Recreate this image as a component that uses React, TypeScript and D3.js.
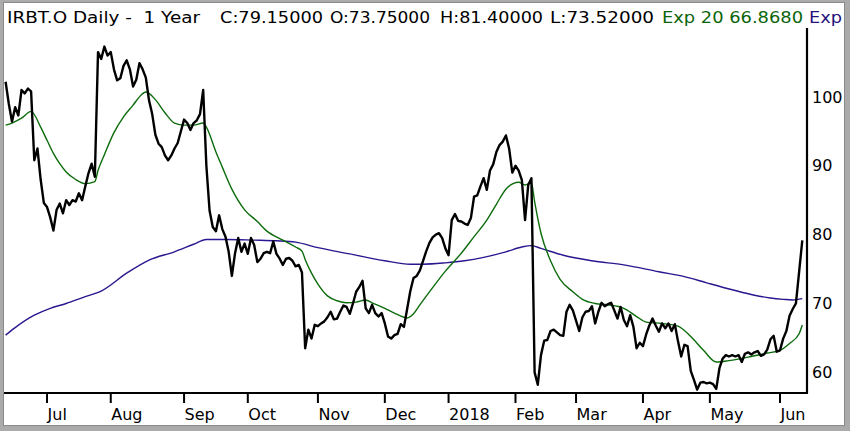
import * as d3 from "d3";
import React, { useRef, useEffect } from "react";

// trading calendar of the chart (one year of daily bars)
const firstDay = "2017-06-14";
const lastDay = "2018-06-12";
const holidays = [
  "2017-07-04", "2017-09-04", "2017-11-23", "2017-12-25", "2018-01-01",
  "2018-01-15", "2018-02-19", "2018-03-30", "2018-05-28",
];

// daily closes
const closes = [
  102.2, 99.0, 96.4, 98.5, 97.3, 101.0, 100.5, 101.2, 100.8, 90.8,
  92.5, 88.0, 84.6, 84.0, 82.5, 80.6, 83.6, 84.5, 83.1, 85.0,
  84.3, 85.0, 84.8, 86.0, 85.0, 87.0, 88.9, 90.3, 88.4, 106.5,
  105.5, 107.3, 106.0, 106.5, 104.0, 102.4, 102.7, 104.5, 105.3, 104.0,
  101.5, 102.5, 104.9, 104.0, 102.8, 99.5, 97.5, 94.5, 93.2, 92.7,
  91.5, 90.8, 91.5, 92.5, 93.3, 95.0, 96.7, 96.2, 95.2, 96.2,
  96.6, 97.5, 101.0, 90.0, 83.5, 81.1, 80.5, 82.8, 80.8, 79.7,
  77.5, 74.0, 77.3, 79.5, 77.5, 78.7, 77.2, 79.5, 78.5, 76.0,
  76.5, 77.3, 77.5, 77.3, 79.0, 77.2, 76.5, 75.6, 76.5, 76.6,
  76.2, 75.4, 75.6, 74.5, 63.5, 66.2, 64.9, 66.9, 66.7, 67.1,
  67.4, 68.0, 68.8, 67.7, 67.8, 68.8, 69.7, 69.5, 68.5, 70.0,
  71.7, 72.4, 73.3, 69.3, 68.6, 69.8, 68.6, 68.1, 68.6, 67.1,
  65.2, 64.9, 65.4, 65.6, 67.0, 66.6, 69.2, 71.8, 73.7, 74.0,
  74.8, 76.2, 77.6, 78.8, 79.6, 80.0, 80.2, 79.5, 78.0, 77.0,
  82.1, 83.0, 82.0, 81.9, 81.6, 81.4, 82.4, 85.5, 85.7, 87.0,
  88.2, 86.5, 89.3, 90.2, 92.0, 93.0, 93.5, 94.4, 92.5, 89.0,
  90.0, 89.3, 87.9, 82.1, 87.2, 88.2, 60.0, 58.2, 62.5, 64.6,
  64.7, 66.0, 66.2, 65.8, 65.4, 65.3, 68.8, 69.8, 69.0, 67.5,
  66.0, 68.0, 68.8, 68.9, 69.6, 67.1, 68.8, 70.1, 69.6, 69.9,
  70.1, 69.0, 67.8, 69.5, 67.6, 66.7, 68.3, 66.6, 63.5, 64.3,
  63.8, 65.5, 66.8, 67.8, 66.8, 65.9, 67.1, 66.4, 67.1, 66.0,
  67.0, 64.5, 62.3, 64.0, 63.8, 60.2, 58.9, 57.5, 58.5, 58.6,
  58.4, 58.5, 58.3, 57.6, 60.6, 62.0, 62.5, 62.3, 62.5, 62.3,
  62.5, 61.5, 62.7, 62.9, 62.6, 62.9, 63.1, 62.4, 62.6, 63.3,
  64.8, 65.3, 63.0, 63.2, 64.9, 66.0, 68.2, 69.2, 70.0, 74.6,
  79.15,
];

// Exp 20 (green), read at these bar numbers
const fastDays = [
  0, 2, 5, 8, 11, 13, 15, 17, 19, 22, 25, 28, 29, 31, 34, 37, 40, 42, 44, 47,
  50, 53, 56, 59, 62, 63, 66, 68, 71, 75, 79, 82, 87, 91, 93, 94, 96, 98, 101, 104,
  107, 110, 113, 115, 119, 122, 125, 126, 128, 130, 134, 138, 143, 147, 151, 154, 157, 161, 163, 165,
  166, 168, 171, 174, 178, 181, 185, 189, 194, 198, 201, 206, 211, 215, 219, 223, 227, 234, 239, 243,
  246, 249, 250,
];
const fastValues = [
  95.9, 96.2, 96.9, 97.9, 95.6, 93.7, 91.8, 90.3, 89.1, 88.0, 87.4, 87.7, 89.3, 91.6, 94.8, 97.1, 98.8, 100.0, 100.7, 99.6,
  97.7, 96.2, 95.9, 95.9, 96.2, 95.6, 92.0, 89.8, 86.6, 83.6, 81.9, 80.5, 79.2, 78.2, 77.6, 76.4, 74.4, 72.8, 71.1, 70.4,
  70.1, 70.2, 70.5, 70.1, 69.3, 68.6, 68.0, 67.9, 68.5, 69.8, 72.3, 74.7, 77.3, 79.7, 82.1, 84.4, 86.6, 87.6, 87.2, 87.5,
  84.8, 80.2, 76.2, 73.5, 71.7, 70.6, 70.0, 69.8, 69.3, 68.1, 67.3, 67.1, 66.7, 65.2, 63.2, 61.5, 61.7, 62.3, 62.8, 63.2,
  64.2, 65.6, 66.87,
];

// long Exp (blue), read at these bar numbers
const slowDays = [
  0, 3, 9, 14, 19, 25, 30, 38, 45, 53, 59, 63, 69, 78, 85, 91, 98, 108, 119, 127,
  131, 138, 144, 150, 157, 162, 165, 168, 175, 184, 194, 205, 213, 220, 228, 235, 240, 244, 247, 250,
];
const slowValues = [
  65.4, 66.5, 68.3, 69.3, 70.0, 71.0, 71.8, 74.4, 76.3, 77.5, 78.6, 79.3, 79.3, 79.2, 79.1, 78.9, 78.1, 77.2, 76.2, 75.7,
  75.7, 75.9, 76.2, 76.7, 77.5, 78.2, 78.4, 78.0, 77.0, 76.2, 75.6, 74.6, 73.9, 73.0, 72.0, 71.2, 70.8, 70.6, 70.5, 70.7,
];

const priceTicks = [60, 70, 80, 90, 100];

const headerTexts = [
  "IRBT.O Daily -  1 Year",
  "C:79.15000",
  "O:73.75000",
  "H:81.40000",
  "L:73.52000",
  "Exp 20 66.8680",
  "Exp",
];

const W = 850;
const H = 431;
const FONT = "'DejaVu Sans', Verdana, sans-serif";
const GREEN = "#0c6c0c";
const BLUE = "#2a168e";

const Chart = () => {
  const svgRef = useRef(null);

  useEffect(() => {
    const svg = d3.select(svgRef.current);
    svg.selectAll("*").remove();

    const parse = d3.utcParse("%Y-%m-%d");
    const fmt = d3.utcFormat("%Y-%m-%d");
    const off = new Set(holidays);
    const days = d3
      .utcDay.range(parse(firstDay) as Date, d3.utcDay.offset(parse(lastDay) as Date, 1))
      .filter((d) => d.getUTCDay() !== 0 && d.getUTCDay() !== 6 && !off.has(fmt(d)));

    const x = d3.scaleLinear().domain([0, closes.length - 1]).range([5.6, 802.3]);
    const y = d3.scaleLinear().domain([57, 110]).range([393, 28]);

    const axisX = 807;
    const axisY = 393;

    svg.append("rect").attr("width", W).attr("height", H).attr("fill", "#fff");

    svg
      .append("defs")
      .append("clipPath")
      .attr("id", "plotclip")
      .append("rect")
      .attr("x", 4)
      .attr("y", 26)
      .attr("width", axisX - 4)
      .attr("height", axisY - 26);

    const plot = svg.append("g").attr("clip-path", "url(#plotclip)");

    const slowLine = d3
      .line<number>()
      .x((d, i) => x(slowDays[i]))
      .y((d) => y(d))
      .curve(d3.curveMonotoneX);
    plot
      .append("path")
      .attr("d", slowLine(slowValues))
      .attr("fill", "none")
      .attr("stroke", BLUE)
      .attr("stroke-width", 1.4);

    const fastLine = d3
      .line<number>()
      .x((d, i) => x(fastDays[i]))
      .y((d) => y(d))
      .curve(d3.curveMonotoneX);
    plot
      .append("path")
      .attr("d", fastLine(fastValues))
      .attr("fill", "none")
      .attr("stroke", GREEN)
      .attr("stroke-width", 1.4);

    const priceLine = d3
      .line<number>()
      .x((d, i) => x(i))
      .y((d) => y(d));
    plot
      .append("path")
      .attr("d", priceLine(closes))
      .attr("fill", "none")
      .attr("stroke", "#000")
      .attr("stroke-width", 2.4)
      .attr("stroke-linejoin", "round");

    // axes
    svg
      .append("line")
      .attr("x1", 4)
      .attr("x2", axisX + 1)
      .attr("y1", axisY)
      .attr("y2", axisY)
      .attr("stroke", "#000")
      .attr("stroke-width", 2.2);
    svg
      .append("line")
      .attr("x1", axisX)
      .attr("x2", axisX)
      .attr("y1", 28)
      .attr("y2", axisY)
      .attr("stroke", "#000")
      .attr("stroke-width", 2.2);

    svg
      .append("g")
      .selectAll("text")
      .data(priceTicks)
      .join("text")
      .attr("x", axisX + 5)
      .attr("y", (d) => y(d))
      .attr("dy", "0.36em")
      .attr("font-family", FONT)
      .attr("font-size", 16)
      .attr("fill", "#000")
      .text((d) => d);

    const monthStarts = d3
      .range(1, Math.min(days.length, closes.length))
      .filter((i) => days[i].getUTCMonth() !== days[i - 1].getUTCMonth());

    const ticks = svg.append("g").selectAll("g").data(monthStarts).join("g");
    ticks
      .append("line")
      .attr("x1", (i) => x(i))
      .attr("x2", (i) => x(i))
      .attr("y1", axisY)
      .attr("y2", axisY + 10)
      .attr("stroke", "#000")
      .attr("stroke-width", 2);
    ticks
      .append("text")
      .attr("x", (i) => x(i) + 0.5)
      .attr("y", 420)
      .attr("font-family", FONT)
      .attr("font-size", 16)
      .attr("fill", "#000")
      .text((i) =>
        days[i].getUTCMonth() === 0
          ? d3.utcFormat("%Y")(days[i])
          : d3.utcFormat("%b")(days[i])
      );

    // header line
    const headerX = [7, 220, 330, 440, 550, 662, 809];
    const headerW = [193, 103, 100, 103, 104, 141, 33];
    const headerFill = ["#000", "#000", "#000", "#000", "#000", "#0a640a", "#26127a"];
    svg
      .append("g")
      .selectAll("text")
      .data(headerTexts)
      .join("text")
      .attr("x", (d, i) => headerX[i])
      .attr("y", 23)
      .attr("font-family", FONT)
      .attr("font-size", 16)
      .attr("fill", (d, i) => headerFill[i])
      .attr("textLength", (d, i) => headerW[i])
      .attr("lengthAdjust", "spacingAndGlyphs")
      .style("white-space", "pre")
      .text((d) => d);

    // window frame
    svg
      .append("path")
      .attr("d", `M0,0H${W}V${H}H0Z M4,3V425H844V3Z`)
      .attr("fill", "#ababab")
      .attr("fill-rule", "evenodd");
    svg
      .append("rect")
      .attr("x", 3.5)
      .attr("y", 2.5)
      .attr("width", 841)
      .attr("height", 423)
      .attr("fill", "none")
      .attr("stroke", "#8a8a8a")
      .attr("stroke-width", 1);
  }, []);

  return (
    <svg
      ref={svgRef}
      width={W}
      height={H}
      style={{ position: "absolute", left: 0, top: 0, display: "block" }}
    ></svg>
  );
};

export default function App() {
  return <Chart />;
}
